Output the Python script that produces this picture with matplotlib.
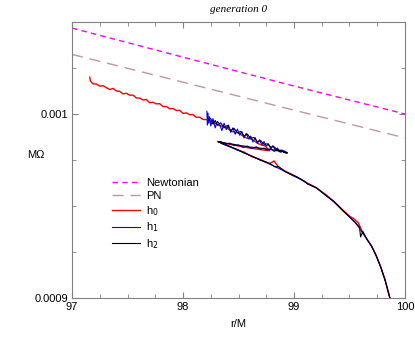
import matplotlib
matplotlib.use("Agg")
import matplotlib.pyplot as plt
from matplotlib.ticker import MultipleLocator, FixedLocator

plt.rcParams['font.family'] = ['Liberation Sans', 'DejaVu Sans']

# reference lines
r_ref = [97.0, 98.0, 99.0, 100.0]
om_newton = [0.0010467, 0.0010309, 0.0010152, 0.0010000]
om_pn = [0.0010324, 0.0010173, 0.0010021, 0.0009870]

# h0 (red)
r_h0 = [97.16, 97.165, 97.19, 97.22, 97.25, 97.28, 97.31, 97.34, 97.37, 97.40, 97.43,
        97.46, 97.49, 97.52, 97.55, 97.58, 97.61, 97.64, 97.67, 97.70, 97.73,
        97.76, 97.79, 97.82, 97.85, 97.88, 97.91, 97.94, 97.97, 98.00, 98.03,
        98.06, 98.09, 98.12, 98.15, 98.18, 98.21,
        98.26, 98.32, 98.38, 98.44, 98.50, 98.56, 98.62, 98.68, 98.74, 98.78,
        98.70, 98.60, 98.50, 98.40, 98.31,
        98.36, 98.42, 98.48, 98.55, 98.62, 98.70, 98.78, 98.82, 98.86, 98.92,
        98.98, 99.05, 99.12, 99.20, 99.28, 99.36, 99.44, 99.50, 99.54, 99.58,
        99.62, 99.66, 99.70, 99.74, 99.78, 99.82, 99.86, 99.88]
om_h0 = [0.0010200, 0.0010179, 0.0010164, 0.0010163, 0.0010151, 0.0010154,
         0.0010143, 0.0010133, 0.0010139, 0.0010125, 0.0010123, 0.0010109,
         0.0010113, 0.0010102, 0.0010103, 0.0010087, 0.0010087, 0.0010076,
         0.0010079, 0.0010061, 0.0010064, 0.0010055, 0.0010056, 0.0010040,
         0.0010041, 0.0010028, 0.0010030, 0.0010019, 0.0010020, 0.0010003,
         0.0010006, 0.0009996, 0.0009997, 0.0009982, 0.0009983, 0.0009970,
         0.0009970,
         0.0009962, 0.0009938, 0.0009930, 0.0009905, 0.0009897, 0.0009872,
         0.0009862, 0.0009838, 0.0009826, 0.0009800,
         0.0009806, 0.0009815, 0.0009826, 0.0009838, 0.0009851,
         0.0009840, 0.0009822, 0.0009808, 0.0009793, 0.0009768, 0.0009752,
         0.0009730, 0.0009745, 0.0009712, 0.0009690, 0.0009672, 0.0009650,
         0.0009625, 0.0009600, 0.0009565, 0.0009525, 0.0009478, 0.0009445,
         0.0009430, 0.0009408, 0.0009355, 0.0009318, 0.0009282, 0.0009232,
         0.0009172, 0.0009100, 0.0009010, 0.0008960]

# h1 (blue)
r_h1 = [98.215, 98.220, 98.225, 98.232, 98.240, 98.25, 98.27, 98.29, 98.31, 98.33,
        98.35, 98.37, 98.39, 98.41, 98.43, 98.45, 98.47, 98.49, 98.51, 98.53,
        98.55, 98.57, 98.59, 98.61, 98.63, 98.65, 98.67, 98.69, 98.71, 98.73,
        98.75, 98.77, 98.79, 98.81, 98.83, 98.85, 98.87, 98.89, 98.92, 98.94,
        98.91, 98.88, 98.85, 98.82, 98.79, 98.76, 98.73, 98.70, 98.66, 98.62,
        98.58, 98.54, 98.50, 98.46, 98.42, 98.38, 98.34, 98.32,
        98.36, 98.42, 98.48, 98.55, 98.62, 98.70, 98.78, 98.86, 98.92, 98.98,
        99.05, 99.12, 99.20, 99.28, 99.36, 99.44, 99.50, 99.55, 99.60, 99.66,
        99.70, 99.74, 99.78, 99.82, 99.86, 99.88]
om_h1 = [0.0010015, 0.0009940, 0.0010005, 0.0009950, 0.0009985, 0.0009935,
         0.0009975, 0.0009925, 0.0009960, 0.0009945, 0.0009910, 0.0009950,
         0.0009915, 0.0009940, 0.0009900, 0.0009925, 0.0009890, 0.0009918,
         0.0009885, 0.0009905, 0.0009870, 0.0009895, 0.0009865, 0.0009880,
         0.0009848, 0.0009872, 0.0009840, 0.0009860, 0.0009832, 0.0009850,
         0.0009825, 0.0009838, 0.0009812, 0.0009828, 0.0009805, 0.0009815,
         0.0009795, 0.0009805, 0.0009788, 0.0009790,
         0.0009800, 0.0009792, 0.0009805, 0.0009797, 0.0009812, 0.0009802,
         0.0009815, 0.0009808, 0.0009822, 0.0009812, 0.0009826, 0.0009818,
         0.0009832, 0.0009828, 0.0009842, 0.0009836, 0.0009850, 0.0009848,
         0.0009838, 0.0009825, 0.0009806, 0.0009790, 0.0009770, 0.0009750,
         0.0009728, 0.0009705, 0.0009688, 0.0009668, 0.0009648, 0.0009622,
         0.0009598, 0.0009562, 0.0009522, 0.0009476, 0.0009442, 0.0009412,
         0.0009370, 0.0009316, 0.0009280, 0.0009230, 0.0009170, 0.0009098,
         0.0009008, 0.0008960]

# h2 (black)
r_h2 = [98.25, 98.27, 98.29, 98.31, 98.34, 98.37, 98.40, 98.43, 98.46, 98.49,
        98.52, 98.55, 98.58, 98.61, 98.64, 98.67, 98.70, 98.73, 98.76, 98.79,
        98.82, 98.85, 98.88, 98.91, 98.94,
        98.90, 98.85, 98.80, 98.75, 98.70, 98.65, 98.60, 98.55, 98.50, 98.45,
        98.40, 98.35, 98.32,
        98.36, 98.42, 98.48, 98.55, 98.62, 98.70, 98.78, 98.83, 98.86, 98.92,
        98.98, 99.02, 99.05, 99.10, 99.12, 99.20, 99.28, 99.36, 99.44, 99.50,
        99.56, 99.59, 99.60, 99.62, 99.66, 99.70, 99.74, 99.78, 99.82, 99.86,
        99.88]
om_h2 = [0.0009975, 0.0009945, 0.0009965, 0.0009940, 0.0009952, 0.0009925,
         0.0009938, 0.0009910, 0.0009922, 0.0009898, 0.0009905, 0.0009880,
         0.0009890, 0.0009868, 0.0009872, 0.0009850, 0.0009855, 0.0009835,
         0.0009838, 0.0009820, 0.0009822, 0.0009805, 0.0009803, 0.0009792,
         0.0009788,
         0.0009796, 0.0009800, 0.0009806, 0.0009810, 0.0009814, 0.0009818,
         0.0009820, 0.0009826, 0.0009830, 0.0009836, 0.0009840, 0.0009846,
         0.0009850,
         0.0009836, 0.0009823, 0.0009810, 0.0009788, 0.0009772, 0.0009748,
         0.0009732, 0.0009712, 0.0009715, 0.0009686, 0.0009670, 0.0009660,
         0.0009650, 0.0009632, 0.0009620, 0.0009600, 0.0009560, 0.0009524,
         0.0009474, 0.0009440, 0.0009405, 0.0009385, 0.0009332, 0.0009362,
         0.0009316, 0.0009280, 0.0009230, 0.0009170, 0.0009098, 0.0009008,
         0.0008960]

fig = plt.figure(figsize=(4.15, 3.37), dpi=100)
ax = fig.add_axes([0.1735, 0.1157, 0.8024, 0.819])

ax.plot(r_ref, om_newton, color='#ff00ff', lw=1.0, dashes=(4, 3), label='Newtonian')
ax.plot(r_ref, om_pn, color='#c09898', lw=1.0, dashes=(8, 5), label='PN')
ax.plot(r_h0, om_h0, color='#ff0000', lw=1.0, label='h$_0$')
ax.plot(r_h1, om_h1, color='#0000ff', lw=0.8, label='h$_1$')
ax.plot(r_h2, om_h2, color='#000000', lw=0.8, label='h$_2$')

ax.set_xlim(97, 100)
ax.set_ylim(0.0009, 0.00105)
ax.xaxis.set_major_locator(FixedLocator([97, 98, 99, 100]))
ax.xaxis.set_minor_locator(MultipleLocator(0.25))
ax.yaxis.set_major_locator(FixedLocator([0.0009, 0.001]))
ax.yaxis.set_major_formatter(plt.FuncFormatter(lambda v, p: '0.001' if abs(v - 0.001) < 1e-9 else '0.0009'))
ax.yaxis.set_minor_locator(FixedLocator([0.000925, 0.00095, 0.000975, 0.001025]))

ax.tick_params(which='both', direction='in', top=True, right=True,
               color='#808080', labelsize=8, pad=3)
ax.tick_params(which='major', length=4)
ax.tick_params(which='minor', length=3)
for s in ax.spines.values():
    s.set_color('#808080')
    s.set_linewidth(0.8)

ax.set_xlabel('r/M', fontsize=8, labelpad=5)
ax.set_ylabel('M\u03a9', fontsize=8, rotation=0)
ax.yaxis.set_label_coords(-0.11, 0.5)
ax.set_title('generation 0', fontsize=8, style='italic',
             family=['Liberation Serif', 'DejaVu Serif'], pad=7)

ax.legend(loc='upper left', bbox_to_anchor=(0.09, 0.47), frameon=False,
          fontsize=8, handlelength=2.5, handletextpad=0.6, labelspacing=0.25)

fig.savefig('out.png', dpi=100)
